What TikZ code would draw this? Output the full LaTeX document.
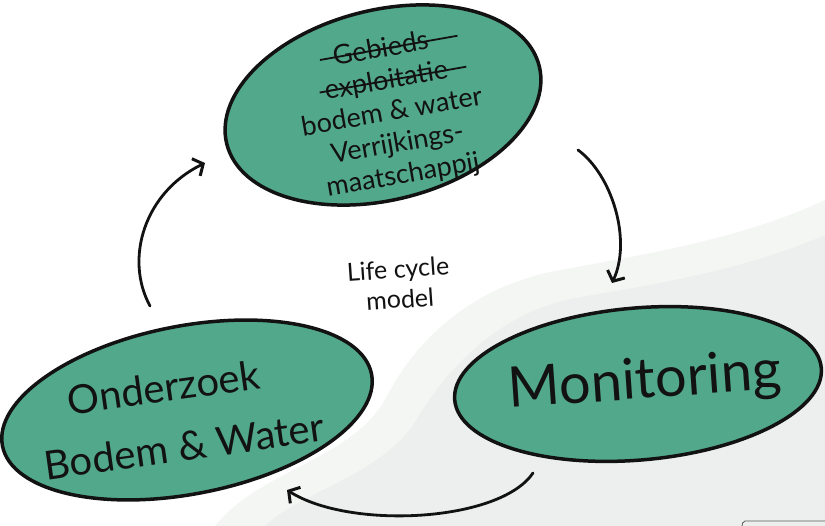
\documentclass[tikz,border=0pt]{standalone}
\usepackage{fontspec}
\setmainfont{Lato}
\usetikzlibrary{shapes.geometric,arrows.meta,calc}
\definecolor{blobgreen}{RGB}{82,168,138}
\definecolor{washlight}{RGB}{244,246,244}
\definecolor{wash}{RGB}{236,239,237}
\definecolor{ink}{RGB}{18,18,18}
\newlength\strklen
\newcommand\mystrike[3]{\settowidth{\strklen}{#3}%
  \makebox[0pt][l]{\hspace*{-#1}\raisebox{0.27em}{\rule{\dimexpr\strklen+#1+#2\relax}{1.8pt}}}#3}
\begin{document}
\begin{tikzpicture}[x=1pt,y=-1pt,
  blob/.style={ellipse, draw=ink, line width=3.5pt, fill=blobgreen, inner sep=0pt},
  hand/.style={text=ink, inner sep=0pt, align=center},
  flow/.style={draw=ink, line width=2.8pt, line cap=round, -{Straight Barb[length=8pt,width=19pt,line width=3pt]}}]
\useasboundingbox (0,0) rectangle (825,526);
\fill[white] (0,0) rectangle (825,526);
% grey wash
\fill[washlight] (825,200) .. controls (740,240) and (640,255) .. (550,272)
  .. controls (460,292) and (410,350) .. (385,400)
  .. controls (350,460) and (260,470) .. (215,526) -- (825,526) -- cycle;
\fill[wash] (825,235) .. controls (750,268) and (660,284) .. (575,298)
  .. controls (495,314) and (445,372) .. (415,422)
  .. controls (380,476) and (300,492) .. (265,526) -- (825,526) -- cycle;
\draw[ink!70, line width=0.8pt, rounded corners=2pt] (742,526) -- (743,521) -- (825,521);

% ellipses
\node[blob, minimum width=322pt, minimum height=190pt, rotate=14] (top) at (383,105) {};
\node[blob, minimum width=376pt, minimum height=168pt, rotate=11] (left) at (187,410) {};
\node[blob, minimum width=368pt, minimum height=152pt, rotate=5] (right) at (638,384) {};

% top text
\node[hand, font=\fontsize{27}{32}\selectfont, rotate=10] (ttext) at (392,113)
  {\mystrike{0.5em}{1.1em}{Gebieds}\\
   \mystrike{0.2em}{0.7em}{exploitatie}\\
   bodem \& water\\ Verrijkings-\\ maatschappij};

% left text
\node[hand, font=\fontsize{40}{61}\selectfont, rotate=8] (ltext) at (180,416)
  {\hspace*{-0.6em}Onderzoek\\ Bodem \& Water};

% right text
\node[hand, font=\fontsize{56}{62}\selectfont, rotate=4] (rtext) at (645,383) {Monitoring};

% centre text
\node[hand, font=\fontsize{25}{30}\selectfont, rotate=4] (ctext) at (399,284) {Life cycle\\ model};

% arrows
\coordinate (a1s) at (150,306);
\coordinate (a1e) at (205,163);
\coordinate (a2s) at (578,150);
\coordinate (a2e) at (612,283);
\coordinate (a3s) at (533,473);
\coordinate (a3e) at (287,490);
\draw[flow] (a1s) .. controls (124,258) and (145,192) .. (a1e);
\draw[flow] (a2s) .. controls (612,175) and (632,240) .. (a2e);
\draw[flow] (a3s) .. controls (500,522) and (350,530) .. (a3e);
\end{tikzpicture}
\end{document}
